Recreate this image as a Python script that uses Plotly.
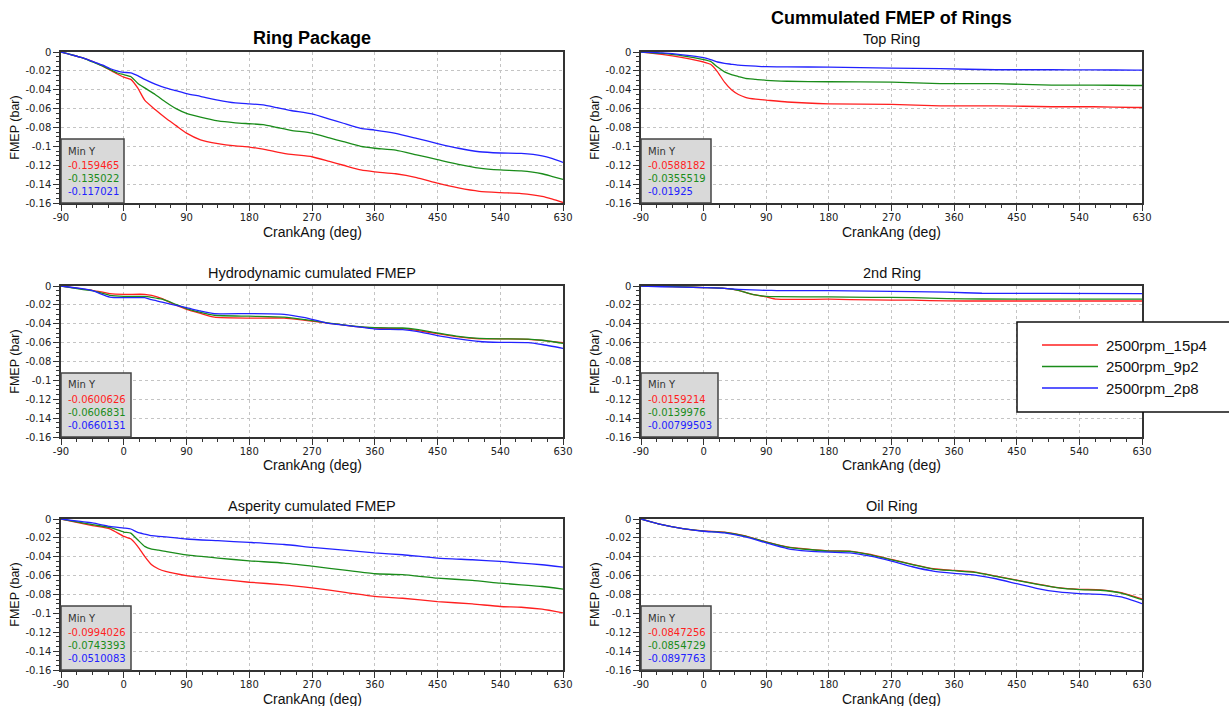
import plotly.graph_objects as go
from plotly.subplots import make_subplots

# ---------------- data ----------------
series_names = ["2500rpm_15p4", "2500rpm_9p2", "2500rpm_2p8"]
series_colors = ["#ff1f1f", "#1a8c1a", "#2222ff"]

x_tick_vals = [-90, 0, 90, 180, 270, 360, 450, 540, 630]
x_tick_text = ["-90", "0", "90", "180", "270", "360", "450", "540", "630"]
y_tick_vals = [0, -0.02, -0.04, -0.06, -0.08, -0.1, -0.12, -0.14, -0.16]
y_tick_text = ["0", "-0.02", "-0.04", "-0.06", "-0.08", "-0.1", "-0.12", "-0.14", "-0.16"]

x_title = "CrankAng (deg)"
y_title = "FMEP (bar)"
panel_titles = ["", "Top Ring", "Hydrodynamic cumulated FMEP", "2nd Ring",
                "Asperity cumulated FMEP", "Oil Ring"]
main_titles = ["Ring Package", "Cummulated FMEP of Rings"]

# Ring Package
pkg_x = [-90, -60, -45, -30, -20, -10, 0, 10, 20, 30, 45, 60, 75, 90, 110, 135, 160, 180,
         200, 220, 240, 270, 295, 315, 340, 360, 390, 420, 450, 480, 510, 540, 570, 600, 615, 630]
pkg_red = [0, -0.006, -0.010, -0.015, -0.019, -0.023, -0.0266, -0.029, -0.038, -0.051, -0.061,
           -0.070, -0.078, -0.086, -0.093, -0.097, -0.0995, -0.1007, -0.103, -0.106, -0.1085,
           -0.111, -0.116, -0.120, -0.125, -0.127, -0.129, -0.133, -0.139, -0.144, -0.1476,
           -0.149, -0.150, -0.153, -0.156, -0.1595]
pkg_green = [0, -0.006, -0.0105, -0.015, -0.0185, -0.022, -0.024, -0.026, -0.033, -0.038, -0.045,
             -0.053, -0.060, -0.065, -0.069, -0.073, -0.075, -0.076, -0.077, -0.080, -0.083,
             -0.086, -0.091, -0.095, -0.100, -0.102, -0.104, -0.109, -0.114, -0.119, -0.123,
             -0.125, -0.126, -0.129, -0.132, -0.135]
pkg_blue = [0, -0.006, -0.010, -0.014, -0.0175, -0.020, -0.0216, -0.022, -0.025, -0.029, -0.034,
            -0.038, -0.041, -0.044, -0.047, -0.051, -0.054, -0.055, -0.056, -0.059, -0.062,
            -0.0656, -0.071, -0.0755, -0.081, -0.0827, -0.0862, -0.0915, -0.097, -0.102,
            -0.1057, -0.107, -0.1075, -0.110, -0.113, -0.117]

# Top Ring
top_x = [-90, -60, -30, 0, 10, 20, 30, 40, 50, 60, 75, 90, 120, 180, 270, 340, 420, 500, 560, 620, 630]
top_red = [0, -0.0025, -0.006, -0.0106, -0.013, -0.021, -0.032, -0.040, -0.045, -0.048, -0.050,
           -0.051, -0.053, -0.055, -0.0556, -0.057, -0.057, -0.058, -0.058, -0.0588, -0.0588]
top_green = [0, -0.0015, -0.004, -0.008, -0.010, -0.016, -0.021, -0.024, -0.026, -0.028, -0.029,
             -0.030, -0.031, -0.0315, -0.032, -0.0336, -0.0336, -0.035, -0.035, -0.0355, -0.0355]
top_blue = [0, -0.001, -0.003, -0.006, -0.008, -0.0106, -0.012, -0.013, -0.014, -0.0145, -0.015,
            -0.0156, -0.0158, -0.016, -0.017, -0.0177, -0.0188, -0.0188, -0.019, -0.0192, -0.0193]

# Hydrodynamic
hyd_x = [-90, -60, -45, -20, 0, 30, 40, 55, 70, 90, 110, 130, 180, 230, 260, 290, 330, 360,
         400, 420, 450, 480, 510, 540, 580, 600, 630]
hyd_red = [0, -0.003, -0.0046, -0.008, -0.0088, -0.0088, -0.010, -0.0134, -0.0187, -0.0247,
           -0.029, -0.033, -0.034, -0.034, -0.0364, -0.039, -0.0428, -0.0445, -0.0452, -0.047,
           -0.0505, -0.054, -0.056, -0.056, -0.0565, -0.0576, -0.0601]
hyd_green = [0, -0.0035, -0.005, -0.0099, -0.011, -0.011, -0.012, -0.014, -0.018, -0.024,
             -0.028, -0.031, -0.032, -0.033, -0.0357, -0.0388, -0.0425, -0.0442, -0.0445,
             -0.046, -0.0498, -0.0534, -0.0555, -0.056, -0.0562, -0.0575, -0.0607]
hyd_blue = [0, -0.0028, -0.005, -0.0117, -0.0124, -0.0124, -0.0145, -0.017, -0.0198, -0.023,
            -0.0265, -0.0293, -0.0293, -0.030, -0.0336, -0.039, -0.0428, -0.0456, -0.0463,
            -0.048, -0.0525, -0.056, -0.0588, -0.0597, -0.060, -0.062, -0.066]

# 2nd Ring
sec_x = [-90, -60, -30, 0, 30, 50, 70, 90, 105, 180, 240, 300, 350, 400, 500, 630]
sec_red = [0, -0.0005, -0.001, -0.0017, -0.0025, -0.0046, -0.0088, -0.0116, -0.014, -0.014,
           -0.0148, -0.015, -0.0158, -0.0159, -0.0159, -0.0159]
sec_green = [0, -0.0005, -0.001, -0.0017, -0.0025, -0.0046, -0.0088, -0.011, -0.0113, -0.0116,
             -0.012, -0.0123, -0.0134, -0.0138, -0.014, -0.014]
sec_blue = [0, -0.0008, -0.0012, -0.0017, -0.0025, -0.0035, -0.0042, -0.0046, -0.0048, -0.005,
            -0.0055, -0.006, -0.0065, -0.0077, -0.0078, -0.008]

# Asperity
asp_x = [-90, -45, -20, 0, 10, 20, 30, 40, 50, 60, 90, 135, 180, 230, 270, 320, 360, 400, 450,
         500, 540, 570, 600, 630]
asp_red = [0, -0.007, -0.0105, -0.0184, -0.021, -0.029, -0.0396, -0.0485, -0.053, -0.0556, -0.060,
           -0.0637, -0.067, -0.0697, -0.073, -0.0779, -0.082, -0.084, -0.0875, -0.090, -0.0927,
           -0.0935, -0.0956, -0.0994]
asp_green = [0, -0.006, -0.009, -0.0138, -0.0149, -0.022, -0.029, -0.0319, -0.033, -0.0343,
             -0.038, -0.0414, -0.0443, -0.0467, -0.050, -0.0545, -0.058, -0.059, -0.0627, -0.065,
             -0.068, -0.0697, -0.0715, -0.0743]
asp_blue = [0, -0.0042, -0.0078, -0.0096, -0.0106, -0.0142, -0.016, -0.0177, -0.0185, -0.019,
            -0.0212, -0.023, -0.0248, -0.027, -0.030, -0.0333, -0.036, -0.0379, -0.0414, -0.0432,
            -0.045, -0.0467, -0.0485, -0.051]

# Oil Ring
oil_x = [-90, -60, -30, 0, 30, 60, 90, 120, 150, 180, 210, 240, 270, 300, 330, 360, 390, 420,
         450, 480, 510, 540, 570, 600, 630]
oil_red = [0, -0.006, -0.0102, -0.0127, -0.014, -0.018, -0.0243, -0.0295, -0.032, -0.0338, -0.034,
           -0.0376, -0.0429, -0.048, -0.0527, -0.0545, -0.0562, -0.0605, -0.0647, -0.069,
           -0.0728, -0.0745, -0.075, -0.078, -0.0847]
oil_green = [0, -0.006, -0.0102, -0.0128, -0.0142, -0.0182, -0.0245, -0.0298, -0.0323, -0.034,
             -0.0343, -0.0379, -0.0432, -0.0483, -0.053, -0.0548, -0.0565, -0.0608, -0.065,
             -0.0693, -0.073, -0.0748, -0.0755, -0.0785, -0.0855]
oil_blue = [0, -0.006, -0.0103, -0.013, -0.0148, -0.019, -0.0253, -0.0313, -0.034, -0.0352,
            -0.0359, -0.0394, -0.0446, -0.0506, -0.0552, -0.0576, -0.0594, -0.0633, -0.0686,
            -0.0738, -0.0773, -0.079, -0.0798, -0.0826, -0.0898]

# Min Y readouts (as printed in each panel)
pkg_min = ["-0.159465", "-0.135022", "-0.117021"]
top_min = ["-0.0588182", "-0.0355519", "-0.01925"]
hyd_min = ["-0.0600626", "-0.0606831", "-0.0660131"]
sec_min = ["-0.0159214", "-0.0139976", "-0.00799503"]
asp_min = ["-0.0994026", "-0.0743393", "-0.0510083"]
oil_min = ["-0.0847256", "-0.0854729", "-0.0897763"]

panels = [
    (pkg_x, [pkg_red, pkg_green, pkg_blue], pkg_min),
    (top_x, [top_red, top_green, top_blue], top_min),
    (hyd_x, [hyd_red, hyd_green, hyd_blue], hyd_min),
    (sec_x, [sec_red, sec_green, sec_blue], sec_min),
    (asp_x, [asp_red, asp_green, asp_blue], asp_min),
    (oil_x, [oil_red, oil_green, oil_blue], oil_min),
]

# ---------------- layout geometry (pixels) ----------------
W, H = 1229, 706
col_px = [(61, 563), (641, 1142)]
row_px = [(52, 203), (286, 437), (519, 670)]

fig = make_subplots(rows=3, cols=2)

TICK_FONT = dict(family="DejaVu Sans", size=10, color="#222222")
GRID = "#c4c4c4"
AX = "#333333"

for i, (xs, ys_list, mins) in enumerate(panels):
    r, c = i // 2, i % 2
    for name, col, ys in zip(series_names, series_colors, ys_list):
        fig.add_trace(go.Scatter(x=xs, y=ys, mode="lines", name=name,
                                 line=dict(color=col, width=1.3, shape="spline", smoothing=0.5),
                                 showlegend=False, hoverinfo="skip"),
                      row=r + 1, col=c + 1)
    k = "" if i == 0 else str(i + 1)
    x0, x1 = col_px[c]
    t0, t1 = row_px[r]
    fig.layout["xaxis" + k].update(
        domain=[x0 / W, x1 / W], range=[-90, 630], automargin=False,
        tickmode="array", tickvals=x_tick_vals, ticktext=x_tick_text,
        ticks="outside", ticklen=6, tickwidth=1, tickcolor=AX, ticklabelstandoff=-2,
        minor=dict(tickmode="linear", tick0=-90, dtick=22.5, ticks="outside",
                   ticklen=3, tickcolor=AX, showgrid=False),
        showgrid=True, gridcolor=GRID, griddash="dot", gridwidth=1,
        showline=True, linecolor=AX, linewidth=1.5, mirror=True, zeroline=False,
        tickfont=TICK_FONT,
    )
    fig.layout["yaxis" + k].update(
        domain=[1 - t1 / H, 1 - t0 / H], range=[-0.16, 0], automargin=False,
        tickmode="array", tickvals=y_tick_vals, ticktext=y_tick_text,
        ticks="outside", ticklen=6, tickwidth=1, tickcolor=AX,
        minor=dict(tickmode="linear", tick0=0, dtick=0.005, ticks="outside",
                   ticklen=3, tickcolor=AX, showgrid=False),
        showgrid=True, gridcolor=GRID, griddash="dot", gridwidth=1,
        showline=True, linecolor=AX, linewidth=1.5, mirror=True, zeroline=False,
        tickfont=TICK_FONT,
        title=dict(text=y_title, standoff=3,
                   font=dict(family="Liberation Sans", size=12.5, color="#111111")),
    )

    # x axis title placed just under the tick labels
    fig.add_annotation(xref="paper", yref="paper", x=(x0 + x1) / 2 / W, y=1 - (t1 + 28.5) / H,
                       text=x_title, showarrow=False, xanchor="center", yanchor="middle",
                       font=dict(family="Liberation Sans", size=14, color="#111111"))

    # Min Y readout box
    xref = "x" + k + " domain"
    yref = "y" + k + " domain"
    maxlen = max(len(s) for s in mins)
    box_w = (7 * maxlen) / (x1 - x0)
    box_h = 64 / (t1 - t0)
    fig.add_shape(type="rect", xref=xref, yref=yref, x0=0, x1=box_w, y0=0, y1=box_h,
                  fillcolor="#d9d9d9", line=dict(color="#444444", width=1.5), layer="above")
    lines = ["Min Y"] + mins
    colors = ["#333333"] + series_colors
    offsets = [52, 38, 25, 12]
    for txt, colr, off in zip(lines, colors, offsets):
        fig.add_annotation(xref=xref, yref=yref, x=5 / (x1 - x0), y=off / (t1 - t0),
                           text=txt, showarrow=False, xanchor="left", yanchor="middle",
                           font=dict(family="DejaVu Sans", size=10, color=colr))

    # panel sub-title
    if panel_titles[i]:
        fig.add_annotation(xref="paper", yref="paper", x=(x0 + x1) / 2 / W,
                           y=1 - (t0 - 13) / H, text=panel_titles[i], showarrow=False,
                           xanchor="center", yanchor="middle",
                           font=dict(family="Liberation Sans", size=14.5, color="#111111"))

# main titles
fig.add_annotation(xref="paper", yref="paper", x=312 / W, y=1 - 38 / H, text="<b>" + main_titles[0] + "</b>",
                   showarrow=False, xanchor="center", yanchor="middle",
                   font=dict(family="Liberation Sans", size=18, color="#000000"))
fig.add_annotation(xref="paper", yref="paper", x=891 / W, y=1 - 18 / H, text="<b>" + main_titles[1] + "</b>",
                   showarrow=False, xanchor="center", yanchor="middle",
                   font=dict(family="Liberation Sans", size=18, color="#000000"))

# legend box (drawn manually, it runs off the right edge like the reference)
fig.add_shape(type="rect", xref="paper", yref="paper", x0=1017 / W, x1=1.05,
              y0=1 - 412 / H, y1=1 - 322 / H, fillcolor="white",
              line=dict(color="#111111", width=1.5), layer="above")
for j, (name, col) in enumerate(zip(series_names, series_colors)):
    yy = 1 - (345 + 21.5 * j) / H
    fig.add_shape(type="line", xref="paper", yref="paper", x0=1042 / W, x1=1098 / W,
                  y0=yy, y1=yy, line=dict(color=col, width=1.5), layer="above")
    fig.add_annotation(xref="paper", yref="paper", x=1104 / W, y=yy, text=name,
                       showarrow=False, xanchor="left", yanchor="middle",
                       font=dict(family="Liberation Sans", size=15, color="#111111"))

fig.update_layout(width=W, height=H, margin=dict(l=0, r=0, t=0, b=0, autoexpand=False),
                  paper_bgcolor="white", plot_bgcolor="white", showlegend=False)

fig.write_html("out.html", config={"displayModeBar": False},
               post_script="document.body.style.margin='0px';document.body.style.overflow='hidden';")
